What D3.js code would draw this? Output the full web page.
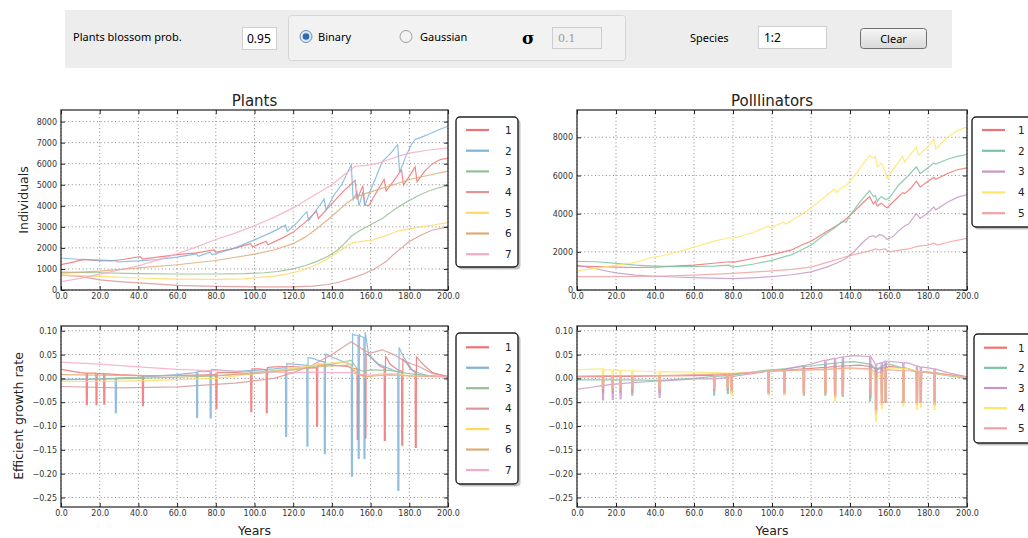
<!DOCTYPE html>
<html>
<head>
<meta charset="utf-8">
<script src="https://cdn.jsdelivr.net/npm/d3@7"></script>
<style>
  body { margin: 0; background: #fff; }
  svg { display: block; font-family: "DejaVu Sans", sans-serif; }
</style>
</head>
<body>
<svg id="chart" width="1028" height="538"></svg>
<script>
// ---- data ----
const xTicks = [0, 20, 40, 60, 80, 100, 120, 140, 160, 180, 200]
const plantPopTicks = [0, 1000, 2000, 3000, 4000, 5000, 6000, 7000, 8000]
const pollPopTicks = [0, 2000, 4000, 6000, 8000]
const rateTicks = [0.10, 0.05, 0.00, -0.05, -0.10, -0.15, -0.20, -0.25]
const plantNames = ["1", "2", "3", "4", "5", "6", "7"]
const pollNames = ["1", "2", "3", "4", "5"]

// plants, individuals  [year, value]
const plantPop1 = [[0,1200],[5,1300],[12,1450],[16,1420],[20,1400],[26,1380],[32,1450],[41,1580],[42,1470],[50,1560],[60,1680],[70,1760],[79,1900],[80,1790],[90,1990],[98,2200],[99,2050],[106,2320],[107,2150],[115,2500],[120,2750],[126,3200],[132,3750],[133,3400],[140,4100],[146,4700],[152,5200],[153,4300],[156,4950],[157,4050],[159,4000],[164,4800],[167,5250],[168,4700],[172,5200],[176,5700],[177,4980],[180,5400],[183,5850],[184,5150],[188,5650],[192,6000],[196,6200],[200,6250]]
const plantPop2 = [[0,1520],[10,1450],[20,1420],[28,1400],[29,1330],[40,1380],[50,1450],[60,1560],[70,1720],[71,1600],[77,1800],[78,1680],[80,1720],[90,2000],[100,2380],[108,2700],[116,3080],[117,2780],[122,3200],[127,3720],[128,3300],[132,3800],[136,4320],[137,3800],[141,4500],[145,5000],[150,5950],[151,4300],[153,4650],[154,4000],[156,4650],[157,4000],[160,4750],[163,5400],[166,6100],[170,6450],[174,6900],[175,5600],[178,6300],[181,6900],[183,7150],[186,7250],[190,7400],[195,7600],[200,7780]]
const plantPop3 = [[0,850],[20,820],[40,780],[60,760],[80,760],[95,780],[105,820],[112,880],[120,1000],[126,1150],[132,1350],[138,1600],[143,1900],[147,2250],[150,2550],[154,2800],[160,3100],[166,3400],[172,3800],[178,4150],[184,4450],[190,4700],[196,4880],[200,4950]]
const plantPop4 = [[0,700],[10,650],[20,480],[30,400],[40,340],[50,280],[60,220],[80,170],[100,150],[120,150],[130,180],[138,260],[144,380],[150,550],[156,750],[162,1000],[168,1350],[172,1700],[176,2000],[180,2300],[186,2600],[192,2850],[200,3000]]
const plantPop5 = [[0,720],[20,650],[40,570],[60,520],[80,500],[95,530],[102,600],[110,660],[118,780],[125,950],[132,1200],[138,1500],[143,1800],[148,2100],[151,2250],[155,2300],[158,2350],[160,2330],[165,2500],[170,2650],[174,2800],[180,2900],[186,3000],[193,3100],[200,3200]]
const plantPop6 = [[0,800],[20,900],[40,1050],[60,1200],[80,1400],[100,1700],[110,1900],[120,2200],[126,2500],[132,2900],[138,3350],[143,3750],[148,4150],[152,4400],[158,4600],[165,4800],[172,5000],[180,5250],[190,5450],[200,5650]]
const plantPop7 = [[0,400],[10,550],[20,750],[30,950],[40,1150],[50,1420],[60,1720],[70,2050],[80,2400],[90,2700],[100,3050],[110,3450],[120,3900],[130,4450],[140,5000],[146,5450],[152,5880],[158,5920],[163,6000],[168,6150],[174,6350],[180,6500],[190,6650],[200,6750]]

// pollinators, individuals
const pollPop1 = [[0,1250],[10,1230],[20,1200],[30,1180],[40,1200],[50,1250],[60,1300],[70,1400],[78,1480],[80,1450],[90,1650],[100,1850],[110,2100],[116,2400],[120,2550],[127,3000],[132,3300],[136,3550],[140,3900],[145,4400],[150,4900],[152,4500],[153,4650],[154,4400],[156,4550],[159,4300],[163,4700],[167,5100],[168,5050],[171,5300],[174,5700],[176,5400],[180,5700],[183,5900],[184,5800],[190,6100],[195,6300],[200,6400]]
const pollPop2 = [[0,1500],[10,1480],[20,1400],[30,1300],[40,1250],[50,1220],[60,1230],[70,1250],[78,1300],[80,1200],[90,1350],[100,1550],[110,1850],[116,2150],[120,2350],[127,2900],[132,3250],[136,3600],[138,3550],[140,3900],[145,4600],[150,5200],[152,4900],[153,4950],[154,4650],[156,4900],[158,4750],[160,4800],[165,5500],[170,6000],[174,6450],[176,6100],[180,6400],[183,6650],[184,6600],[190,6850],[195,7000],[200,7100]]
const pollPop3 = [[0,1300],[10,1100],[20,900],[30,780],[40,720],[50,680],[60,650],[70,620],[80,600],[90,640],[100,700],[110,800],[120,950],[128,1200],[133,1400],[138,1650],[142,2000],[146,2450],[150,2800],[152,2850],[153,2750],[155,2900],[157,2850],[159,2650],[162,2800],[165,3100],[168,3350],[170,3450],[174,4000],[176,3750],[180,4050],[183,4350],[184,4200],[190,4600],[195,4850],[200,5000]]
const pollPop4 = [[0,1000],[10,1150],[20,1300],[30,1450],[38,1700],[43,1780],[50,1950],[60,2250],[70,2550],[78,2750],[80,2700],[90,3000],[98,3350],[99,3250],[106,3550],[107,3450],[115,3950],[120,4300],[128,4950],[132,5300],[133,5100],[136,5400],[138,5450],[142,5950],[146,6500],[150,7050],[152,6900],[153,7000],[154,6450],[156,6650],[157,6500],[159,5850],[163,6450],[167,7000],[168,6700],[174,7500],[175,7050],[180,7500],[183,7900],[184,7400],[190,8000],[195,8350],[200,8550]]
const pollPop5 = [[0,700],[20,700],[40,720],[60,780],[80,870],[100,1000],[110,1080],[120,1200],[130,1500],[135,1650],[140,1800],[150,2050],[153,2150],[155,2100],[158,2150],[160,2000],[170,2150],[175,2300],[180,2350],[183,2450],[185,2350],[190,2500],[200,2700]]

// plants, efficient growth rate: base curve + drops [year, before, bottom, after]
const plantRate1 = [[0,0.019],[10,0.012],[30,0.008],[50,0.006],[70,0.007],[90,0.012],[102,0.020],[110,0.024],[120,0.025],[128,0.022],[140,0.028],[148,0.025],[152,0.020],[155,0.008],[160,0.045],[165,0.025],[170,0.030],[174,0.018],[179,0.030],[181,0.018],[187,0.030],[192,0.012],[200,0.003]]
const plantDrops1 = [[13,0.011,-0.055,0.011],[18,0.011,-0.055,0.010],[22,0.010,-0.054,0.010],[42,0.006,-0.057,0.006],[80,0.008,-0.063,0.012],[98,0.015,-0.070,0.020],[106,0.018,-0.072,0.023],[132,0.022,-0.100,0.030],[153,0.020,-0.128,0.010],[157,0.005,-0.125,0.052],[167,0.022,-0.130,0.047],[176,0.015,-0.140,0.040],[183,0.015,-0.145,0.045]]
const plantRate2 = [[0,-0.002],[20,-0.001],[27,0.000],[40,0.002],[60,0.008],[69,0.012],[74,0.014],[90,0.015],[100,0.017],[110,0.020],[115,0.022],[120,0.030],[126,0.028],[130,0.042],[135,0.035],[140,0.045],[146,0.035],[149,0.030],[152,0.091],[155,0.088],[159,0.050],[164,0.030],[170,0.020],[173,0.015],[177,0.045],[182,0.015],[190,0.005],[200,0.003]]
const plantDrops2 = [[28,0.000,-0.072,0.001],[70,0.013,-0.082,0.015],[77,0.015,-0.083,0.019],[116,0.022,-0.122,0.031],[127,0.028,-0.142,0.044],[136,0.035,-0.158,0.051],[150,0.030,-0.205,0.093],[153.5,0.090,-0.168,0.092],[156.5,0.086,-0.168,0.097],[174,0.015,-0.235,0.065]]
const plantRate3 = [[0,-0.003],[40,0.000],[80,0.005],[100,0.012],[120,0.020],[140,0.030],[150,0.038],[153,0.020],[156,0.015],[160,0.018],[170,0.017],[180,0.010],[190,0.006],[200,0.003]]
const plantRate4 = [[0,-0.017],[30,-0.020],[60,-0.018],[90,-0.010],[110,0.000],[120,0.012],[130,0.028],[140,0.050],[150,0.077],[157,0.058],[160,0.053],[166,0.060],[172,0.050],[178,0.035],[185,0.025],[192,0.010],[200,0.005]]
const plantRate5 = [[0,-0.007],[40,-0.005],[80,0.000],[100,0.010],[120,0.020],[135,0.030],[148,0.035],[153,0.010],[157,0.002],[165,0.010],[175,0.010],[180,0.005],[200,0.003]]
const plantRate6 = [[0,0.008],[40,0.006],[80,0.006],[100,0.010],[120,0.018],[135,0.025],[148,0.028],[153,0.010],[157,0.003],[162,0.005],[170,0.008],[180,0.005],[200,0.003]]
const plantRate7 = [[0,0.034],[20,0.030],[40,0.024],[60,0.019],[80,0.016],[100,0.014],[120,0.012],[130,0.013],[140,0.012],[150,0.012],[155,0.008],[160,0.007],[170,0.007],[180,0.006],[200,0.004]]

// pollinators, efficient growth rate: base curve + drops at the same years
const pollDropYears = [13,18,22,28,42,70,77,79,98,106,116,127,132,136,150,153,156,158,167,174,176,183]
const pollRate1 = [[0,0.003],[20,0.004],[40,0.005],[60,0.006],[80,0.009],[100,0.015],[120,0.021],[135,0.026],[145,0.028],[150,0.025],[154,0.018],[160,0.025],[170,0.020],[180,0.013],[190,0.008],[200,0.003]]
const pollLevel1 = [0.004,0.004,0.004,0.004,0.005,0.007,0.008,0.008,0.015,0.017,0.020,0.023,0.025,0.026,0.025,0.020,0.022,0.022,0.022,0.015,0.014,0.012]
const pollDepth1 = [-0.02,-0.02,-0.02,-0.02,-0.025,-0.02,-0.02,-0.025,-0.03,-0.03,-0.03,-0.03,-0.04,-0.035,-0.04,-0.07,-0.055,-0.05,-0.05,-0.055,-0.05,-0.055]
const pollRate2 = [[0,-0.003],[20,-0.003],[40,-0.004],[60,0.000],[80,0.007],[100,0.018],[120,0.026],[135,0.033],[142,0.035],[150,0.030],[154,0.020],[160,0.030],[170,0.020],[180,0.012],[190,0.006],[200,0.000]]
const pollLevel2 = [-0.003,-0.003,-0.003,-0.003,-0.004,0.004,0.006,0.007,0.018,0.020,0.025,0.030,0.032,0.034,0.030,0.020,0.025,0.030,0.022,0.014,0.013,0.010]
const pollDepth2 = [-0.03,-0.03,-0.03,-0.035,-0.03,-0.035,-0.032,-0.03,-0.033,-0.033,-0.035,-0.035,-0.04,-0.038,-0.048,-0.075,-0.03,-0.05,-0.05,-0.05,-0.05,-0.055]
const pollRate3 = [[0,-0.023],[10,-0.017],[20,-0.012],[40,-0.006],[60,-0.001],[80,0.004],[100,0.015],[120,0.030],[130,0.040],[142,0.048],[150,0.046],[154,0.030],[160,0.036],[170,0.032],[180,0.022],[190,0.012],[200,0.003]]
const pollLevel3 = [-0.015,-0.012,-0.011,-0.009,-0.006,-0.001,0.002,0.003,0.015,0.019,0.027,0.038,0.042,0.045,0.046,0.030,0.033,0.036,0.033,0.026,0.024,0.020]
const pollDepth3 = [-0.045,-0.044,-0.043,-0.03,-0.04,-0.025,-0.025,-0.03,-0.03,-0.03,-0.03,-0.03,-0.035,-0.035,-0.035,-0.07,-0.03,-0.05,-0.045,-0.05,-0.05,-0.05]
const pollRate4 = [[0,0.018],[12,0.020],[14,0.018],[25,0.016],[40,0.014],[60,0.013],[80,0.011],[100,0.015],[120,0.018],[140,0.021],[150,0.018],[153,0.000],[157,0.010],[160,0.022],[170,0.020],[180,0.012],[190,0.007],[200,0.002]]
const pollLevel4 = [0.020,0.018,0.017,0.016,0.014,0.012,0.011,0.011,0.015,0.016,0.018,0.019,0.020,0.021,0.018,0.000,0.010,0.020,0.021,0.015,0.014,0.011]
const pollDepth4 = [-0.02,-0.02,-0.02,-0.02,-0.02,-0.02,-0.02,-0.035,-0.035,-0.035,-0.03,-0.03,-0.048,-0.035,-0.02,-0.09,-0.063,-0.045,-0.058,-0.065,-0.06,-0.065]
const pollRate5 = [[0,0.005],[20,0.006],[40,0.006],[60,0.008],[80,0.010],[100,0.015],[120,0.018],[140,0.022],[150,0.020],[155,0.012],[160,0.018],[170,0.016],[180,0.013],[190,0.008],[200,0.003]]
const pollLevel5 = [0.006,0.006,0.006,0.006,0.006,0.009,0.010,0.010,0.015,0.016,0.018,0.019,0.020,0.021,0.020,0.012,0.015,0.018,0.016,0.014,0.013,0.011]
const pollDepth5 = [-0.02,-0.02,-0.02,-0.02,-0.025,-0.02,-0.02,-0.025,-0.03,-0.03,-0.03,-0.03,-0.035,-0.035,-0.035,-0.065,-0.05,-0.05,-0.05,-0.05,-0.05,-0.05]

const plantColors = ["#f07272", "#7fb3d8", "#93bf93", "#d99898", "#ffd966", "#dcac76", "#f6aac4"]
const pollColors = ["#f07272", "#7cc4a3", "#c996c6", "#ffe56a", "#f0a2a2"]

// drop = line falls at year t, stays ~half a year, comes back
function withDrops(base, drops) {
  const pts = base.slice()
  drops.forEach(([t, a, d, b]) => {
    pts.push([t, a], [t + 0.1, d], [t + 0.6, d], [t + 0.7, b])
  })
  return pts.sort((p, q) => p[0] - q[0])
}
function pollSeries(base, levels, depths) {
  return withDrops(base, pollDropYears.map((t, i) => [t, levels[i], depths[i], levels[i]]))
}

const plantRates = [
  withDrops(plantRate1, plantDrops1), withDrops(plantRate2, plantDrops2),
  plantRate3, plantRate4, plantRate5, plantRate6, plantRate7
]
const pollRates = [
  pollSeries(pollRate1, pollLevel1, pollDepth1), pollSeries(pollRate2, pollLevel2, pollDepth2),
  pollSeries(pollRate3, pollLevel3, pollDepth3), pollSeries(pollRate4, pollLevel4, pollDepth4),
  pollSeries(pollRate5, pollLevel5, pollDepth5)
]

// ---- drawing ----
const svg = d3.select("#chart")

// control bar
const bar = svg.append("g").attr("font-family", "'Noto Sans', 'DejaVu Sans', sans-serif").attr("font-size", "11px").attr("fill", "#000")
bar.append("rect").attr("x", 65).attr("y", 10).attr("width", 887).attr("height", 58).attr("fill", "#ededed")
bar.append("rect").attr("x", 288.5).attr("y", 15.5).attr("width", 337).attr("height", 45).attr("rx", 3)
  .attr("fill", "#f2f2f2").attr("stroke", "#d6d6d6")
bar.append("text").attr("x", 73).attr("y", 41).text("Plants blossom prob.")
bar.append("rect").attr("x", 242.5).attr("y", 27.5).attr("width", 34).attr("height", 22).attr("fill", "#fff").attr("stroke", "#cfcfcf")
bar.append("text").attr("x", 247).attr("y", 43).attr("font-size", "12px").text("0.95")
// radios
bar.append("circle").attr("cx", 306).attr("cy", 36.5).attr("r", 6).attr("fill", "#dde9f6").attr("stroke", "#6b8db3")
bar.append("circle").attr("cx", 306).attr("cy", 36.5).attr("r", 3.3).attr("fill", "#2a6cae")
bar.append("text").attr("x", 318).attr("y", 40.5).text("Binary")
bar.append("circle").attr("cx", 406).attr("cy", 36.5).attr("r", 6).attr("fill", "#f3f3f3").attr("stroke", "#9c9c9c")
bar.append("text").attr("x", 420).attr("y", 40.5).text("Gaussian")
bar.append("text").attr("x", 522).attr("y", 44).attr("font-family", "'DejaVu Serif', serif")
  .attr("font-weight", "bold").attr("font-size", "17px").text("σ")
bar.append("rect").attr("x", 552.5).attr("y", 27.5).attr("width", 49).attr("height", 21).attr("fill", "#f1f1f1").attr("stroke", "#cdcdcd")
bar.append("text").attr("x", 558).attr("y", 42).attr("font-family", "'DejaVu Serif', serif").attr("fill", "#9a9a9a").text("0.1")
bar.append("text").attr("x", 690).attr("y", 41.5).text("Species")
bar.append("rect").attr("x", 758.5).attr("y", 26.5).attr("width", 68).attr("height", 22).attr("fill", "#fff").attr("stroke", "#cfcfcf")
bar.append("text").attr("x", 764).attr("y", 42).attr("font-size", "12px").text("1:2")
const grad = svg.append("defs").append("linearGradient").attr("id", "btn").attr("x1", 0).attr("x2", 0).attr("y1", 0).attr("y2", 1)
grad.append("stop").attr("offset", "0%").attr("stop-color", "#f6f6f6")
grad.append("stop").attr("offset", "100%").attr("stop-color", "#d9d9d9")
bar.append("rect").attr("x", 860.5).attr("y", 28.5).attr("width", 66).attr("height", 20).attr("rx", 3)
  .attr("fill", "url(#btn)").attr("stroke", "#6f6f6f")
bar.append("text").attr("x", 893.5).attr("y", 42.5).attr("text-anchor", "middle").text("Clear")

const line = (x, y) => d3.line().x(d => x(d[0])).y(d => y(d[1]))

function panel(cfg) {
  const { x0, x1, y0, y1, domain, yTicks, yFormat, series, colors } = cfg
  const x = d3.scaleLinear().domain([0, 200]).range([x0, x1])
  const y = d3.scaleLinear().domain(domain).range([y1, y0])
  const g = svg.append("g")

  // grid
  g.append("g").selectAll("line").data(xTicks).enter().append("line")
    .attr("x1", d => x(d)).attr("x2", d => x(d)).attr("y1", y0).attr("y2", y1)
    .attr("stroke", "#8a8a8a").attr("stroke-dasharray", "1,2.6")
  g.append("g").selectAll("line").data(yTicks).enter().append("line")
    .attr("x1", x0).attr("x2", x1).attr("y1", d => y(d)).attr("y2", d => y(d))
    .attr("stroke", "#8a8a8a").attr("stroke-dasharray", "1,2.6")

  // series
  const clipId = "clip" + x0 + "_" + y0
  g.append("clipPath").attr("id", clipId).append("rect")
    .attr("x", x0).attr("y", y0).attr("width", x1 - x0).attr("height", y1 - y0)
  g.append("g").attr("clip-path", `url(#${clipId})`)
    .selectAll("path").data(series).enter().append("path")
    .attr("d", line(x, y))
    .attr("fill", "none")
    .attr("stroke", (d, i) => colors[i])
    .attr("stroke-opacity", 0.85)
    .attr("stroke-width", 1.2)

  // axes, ticks pointing inwards on all sides
  const tickStyle = sel => {
    sel.select(".domain").remove()
    sel.selectAll(".tick line").attr("stroke", "#222")
    sel.selectAll("text").attr("fill", "#333").attr("font-size", "8px").attr("font-family", "'DejaVu Sans', sans-serif")
  }
  g.append("g").attr("transform", `translate(0,${y1})`)
    .call(d3.axisBottom(x).tickValues(xTicks).tickSize(-4).tickPadding(3).tickFormat(d => d.toFixed(1))).call(tickStyle)
  g.append("g").attr("transform", `translate(0,${y0})`)
    .call(d3.axisTop(x).tickValues(xTicks).tickSize(-4).tickFormat("")).call(tickStyle)
  g.append("g").attr("transform", `translate(${x0},0)`)
    .call(d3.axisLeft(y).tickValues(yTicks).tickSize(-4).tickPadding(4).tickFormat(yFormat)).call(tickStyle)
  g.append("g").attr("transform", `translate(${x1},0)`)
    .call(d3.axisRight(y).tickValues(yTicks).tickSize(-4).tickFormat("")).call(tickStyle)

  g.append("rect").attr("x", x0).attr("y", y0).attr("width", x1 - x0).attr("height", y1 - y0)
    .attr("fill", "none").attr("stroke", "#222").attr("stroke-width", 1.2)
}

function legend(lx, ly, w, h, names, colors, row0, step, textX) {
  const g = svg.append("g")
  g.append("rect").attr("x", lx + 2.5).attr("y", ly + 2.5).attr("width", w).attr("height", h).attr("rx", 4)
    .attr("fill", "#9a9a9a").attr("opacity", 0.6)
  g.append("rect").attr("x", lx).attr("y", ly).attr("width", w).attr("height", h).attr("rx", 4)
    .attr("fill", "#fff").attr("stroke", "#222").attr("stroke-width", 1.4)
  const rows = g.selectAll("g.row").data(names).enter().append("g")
    .attr("transform", (d, i) => `translate(0,${row0 + i * step})`)
  rows.append("line").attr("x1", lx + 10).attr("x2", lx + 33)
    .attr("stroke", (d, i) => colors[i]).attr("stroke-width", 2.2)
  rows.append("text").attr("x", lx + textX).attr("y", 3.8)
    .attr("font-size", "10.5px").attr("fill", "#222").text(d => d)
}

const fmtRate = d3.format(".2f")

panel({ x0: 61, x1: 448, y0: 110, y1: 290, domain: [0, 8550], yTicks: plantPopTicks, yFormat: d3.format("d"),
  series: [plantPop1, plantPop2, plantPop3, plantPop4, plantPop5, plantPop6, plantPop7], colors: plantColors })
panel({ x0: 577, x1: 967, y0: 110, y1: 290, domain: [0, 9430], yTicks: pollPopTicks, yFormat: d3.format("d"),
  series: [pollPop1, pollPop2, pollPop3, pollPop4, pollPop5], colors: pollColors })
panel({ x0: 61, x1: 448, y0: 326, y1: 507, domain: [-0.27, 0.11], yTicks: rateTicks, yFormat: fmtRate,
  series: plantRates, colors: plantColors })
panel({ x0: 577, x1: 967, y0: 326, y1: 507, domain: [-0.27, 0.11], yTicks: rateTicks, yFormat: fmtRate,
  series: pollRates, colors: pollColors })

// right-hand legends run off the window edge, as in the original; labels kept inside
legend(456, 117, 62, 150, plantNames, plantColors, 130, 20.7, 49)
legend(972, 117, 70, 110, pollNames, pollColors, 130, 20.8, 46)
legend(456, 333, 62, 151, plantNames, plantColors, 347.3, 20.45, 49)
legend(974, 334, 70, 109, pollNames, pollColors, 347.7, 20.15, 44)

// titles and labels
const label = (x, y, txt, size, rot) => svg.append("text")
  .attr("transform", `translate(${x},${y})` + (rot ? " rotate(-90)" : ""))
  .attr("text-anchor", "middle").attr("font-size", size).attr("fill", "#222").text(txt)
label(254.5, 105.5, "Plants", "15px")
label(772, 105.5, "Polllinators", "15px")
label(27.5, 200, "Individuals", "12.5px", true)
label(22.5, 416, "Efficient growth rate", "12.5px", true)
label(254.5, 534.5, "Years", "12.5px")
label(772, 534.5, "Years", "12.5px")
</script>
</body>
</html>
